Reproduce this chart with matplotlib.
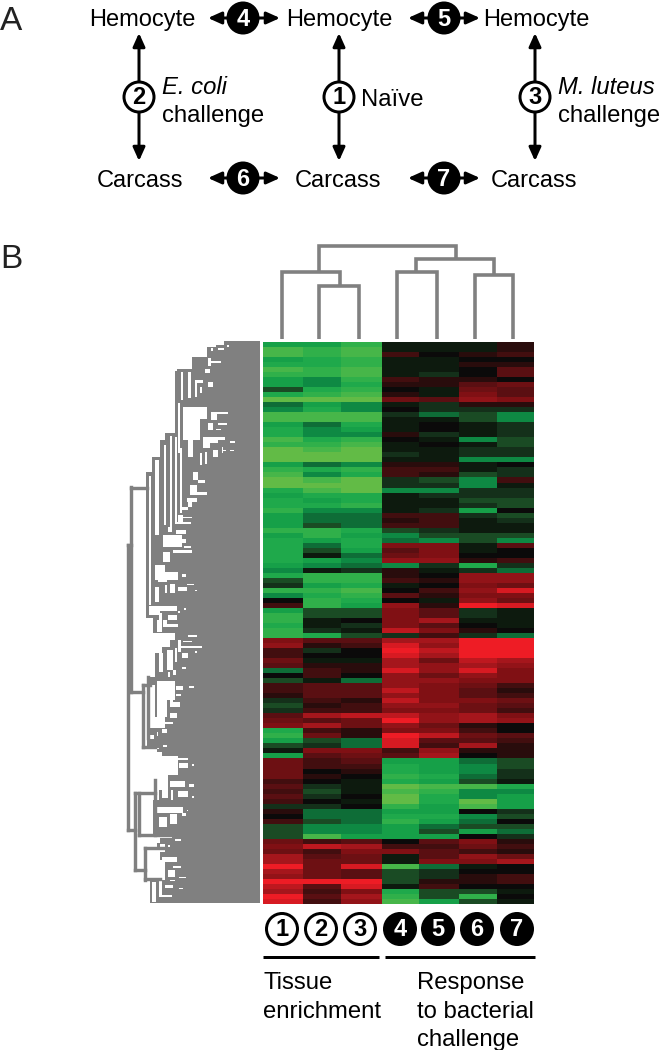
import numpy as np
import matplotlib
matplotlib.use('Agg')
import matplotlib.pyplot as plt
from matplotlib.colors import LinearSegmentedColormap
from matplotlib.patches import Circle, Rectangle

plt.rcParams['font.family'] = ['Liberation Sans', 'DejaVu Sans']

GRAY = '#808080'
PX = 72 / 100.0   # one pixel in points

# heat map values, -10 green .. 10 red, one tuple per row, columns 1..7
rows_green_top = [
    (-6,-6,-8,-1,-1,-1,1), (-9,-8,-9,-1,-1,-1,1), (-9,-8,-9,2,0,1,2), (-6,-7,-8,-1,-1,0,0),
    (-7,-7,-8,-1,-1,1,1), (-9,-8,-9,-1,-1,0,3), (-8,-8,-9,-1,-2,0,3), (-6,-5,-8,2,1,1,0),
    (-6,-5,-7,1,1,3,4), (-3,-7,-8,0,-1,4,3), (-7,-8,-9,1,-1,5,3), (-10,-10,-10,4,3,6,5),
    (-4,-6,-5,-1,-2,1,1), (-5,-7,-5,0,-2,-2,-2), (-9,-9,-9,-2,-4,-3,-5), (-9,-9,-9,-1,-1,-3,-5),
    (-6,-4,-7,-1,0,-1,-2), (-7,-5,-6,-1,0,-1,-2), (-7,-5,-5,1,-2,-1,-2), (-9,-7,-8,0,-1,-5,-3),
    (-8,-8,-9,-1,0,-1,-3), (-10,-9,-10,-1,-1,-2,-2), (-10,-10,-10,-2,-1,-2,-2), (-10,-10,-10,-1,-1,-5,-5),
    (-6,-4,-5,1,1,-1,0), (-8,-7,-8,2,2,-1,-2), (-9,-5,-7,2,1,-3,-2), (-10,-9,-10,-2,-3,-5,2),
]
rows_green_low = [
    (-10,-10,-10,-2,-2,-5,-1), (-7,-9,-10,-5,-5,-2,-2), (-6,-7,-7,-1,-2,-2,-2), (-7,-6,-7,-1,-1,-3,-3),
    (-7,-7,-8,-1,-1,-2,-3), (-8,-5,-5,-1,-2,-6,0), (-6,-4,-4,2,2,-2,-3), (-6,-4,-4,1,2,-1,-2),
    (-6,-3,-4,2,2,-1,-1), (-8,-8,-7,-3,-2,-1,-1), (-6,-8,-6,-5,-3,-3,-3), (-7,-6,-7,-4,-5,-3,-5),
    (-7,-4,-7,5,5,-1,3), (-7,-3,-6,3,5,-1,0), (-7,-1,-4,4,5,0,0), (-7,-6,-5,6,6,1,2),
    (-6,-5,-4,-5,-2,-7,-2), (-5,-1,-2,1,-1,-2,-4), (-7,-8,-8,1,0,6,6), (-3,-8,-8,2,1,6,6),
    (-2,-6,-7,-1,0,5,4), (-8,-8,-9,0,2,6,9), (-5,-7,-8,3,1,5,5), (0,-8,-7,0,-1,6,4),
    (2,-8,-6,6,1,10,9), (-6,-3,-3,5,3,-2,-1), (-8,-3,-3,5,3,-2,-1), (-8,-1,0,5,7,-1,-1),
    (-7,-1,-2,5,3,0,-1), (-8,-2,-1,8,5,1,0), (-8,-7,-3,-2,2,-2,-4),
]
rows_red_top = [
    (5,3,3,7,7,10,10), (6,1,2,9,6,10,10), (2,-2,0,10,8,10,10), (2,0,0,9,7,10,10),
    (4,-1,-1,7,4,8,7), (3,1,1,7,6,7,6), (-4,2,1,9,6,9,5), (0,2,0,6,4,6,5),
    (-3,-1,-4,6,6,5,5), (2,3,3,6,5,4,2), (2,3,3,8,5,3,1), (1,3,3,6,5,3,2),
    (-2,2,1,8,5,5,4), (-3,1,2,6,6,4,3), (-2,2,2,5,5,4,2), (3,7,8,8,6,7,5),
    (4,3,4,10,6,7,6), (5,7,4,6,4,1,0), (-7,2,1,5,5,2,0), (-8,4,1,10,8,4,3),
    (-6,-3,-4,9,3,3,2), (-3,-2,-4,9,2,7,1), (-1,5,5,2,6,1,1), (-6,3,4,3,7,0,1),
]
rows_response_green = [
    (4,2,3,-6,-6,-4,-3), (4,2,2,-7,-6,-5,-3), (4,0,1,-7,-6,-5,-2), (4,1,0,-8,-7,-4,-2),
    (2,0,-1,-7,-6,-3,-1), (3,-2,-1,-10,-9,-9,-7), (2,-3,-1,-9,-8,-5,-5), (3,-2,0,-10,-7,-5,-6),
    (2,0,-1,-10,-7,-10,-6), (-2,-2,0,-8,-6,-9,-6), (1,-4,-4,-6,-6,0,-2), (0,-4,-4,-7,-7,-5,-3),
    (2,-3,-4,-8,-6,-4,0), (-3,-5,-5,-6,-4,-3,-3), (-3,-5,-5,-6,-3,-6,-4), (-3,-9,-6,-6,-6,0,-2),
]
rows_red_bottom = [
    (4,2,3,0,3,5,1), (5,8,7,2,2,4,2), (4,2,5,5,3,2,1), (7,3,4,-1,3,6,4),
    (7,4,4,-1,5,5,7), (10,4,9,-9,-4,-1,0), (7,4,3,-3,-2,0,0), (6,4,3,-3,-2,1,2),
    (10,10,10,-3,1,1,2), (8,3,9,-1,2,0,0), (7,2,5,-7,-3,-3,-1), (10,3,7,-8,-3,-8,0),
    (9,2,6,-9,-6,-3,-1),
]

col_edges = [263, 303, 341, 382, 419, 459, 497, 534]

# top dendrogram, one bracket per merge: left x, right x, merge height, foot of each side
top_left = [282, 319, 397, 475, 416, 319]
top_right = [340, 359, 437, 513, 494, 456]
top_merge = [272, 286, 272, 275, 259, 246]
top_foot_left = [339, 339, 339, 339, 272, 272]
top_foot_right = [286, 339, 339, 339, 275, 259]

# side dendrogram: left edge of the gray block, row band by row band
mass_y = [341, 345, 347, 357, 369, 371, 433, 440, 457, 472, 487, 618, 633, 640, 647, 653, 677, 685, 728,
          733, 747, 752, 756, 775, 790, 800, 835, 838, 843, 848, 860, 880]
mass_x = [224, 216, 207, 192, 177, 175, 165, 160, 152, 146, 146, 153, 175, 170, 162, 155, 149, 155, 150,
          147, 157, 162, 178, 168, 154, 153, 172, 160, 157, 160, 165, 150]
mass_end = 903

# outer branches of the side dendrogram (x0, y0, x1, y1)
side_branches = [
    (128, 545, 128, 830), (128, 545, 131, 545), (131, 487, 131, 692), (131, 488, 147, 488),
    (131, 692, 143, 692), (143, 685, 143, 747), (143, 685, 150, 685), (143, 747, 155, 747),
    (148, 677, 148, 738), (128, 830, 135, 830), (135, 793, 135, 870), (135, 793, 155, 793),
    (135, 870, 145, 870), (145, 848, 145, 880), (145, 848, 165, 848), (139, 793, 139, 835),
    (139, 835, 172, 835), (155, 780, 155, 835), (145, 879, 160, 879),
]

# white gaps inside the gray block (x0, x1, y0, y1)
side_gaps = [
    (181,183,372,400), (188,191,372,398), (195,203,380,383), (195,197,380,397), (200,202,387,393),
    (208,213,382,387), (205,210,369,373), (208,221,361,363), (208,211,358,366), (211,213,348,351),
    (218,224,348,350), (227,229,345,347), (178,180,403,453), (183,207,407,419), (183,200,419,440),
    (211,228,412,414), (211,217,414,420), (218,227,423,425), (208,213,423,430), (216,221,429,430),
    (188,193,440,457), (203,225,437,440), (203,218,440,443), (203,210,443,448), (230,235,441,443),
    (230,234,450,451), (222,226,450,451), (213,218,450,457), (222,223,447,453), (200,202,453,465),
    (205,207,452,464), (193,198,472,480), (198,205,480,483), (190,197,485,493), (190,207,492,495),
    (187,197,498,502), (188,192,502,507), (155,159,460,535), (164,166,445,525), (170,172,436,527),
    (175,177,437,523), (180,182,448,513), (149,151,476,605), (182,188,507,510), (183,192,517,518),
    (178,183,515,522), (175,191,522,524), (168,172,527,532), (176,186,530,534), (163,182,535,547),
    (182,186,539,543), (184,191,546,548), (173,192,550,553), (163,170,552,562), (155,165,565,580),
    (165,178,572,580), (158,167,580,582), (182,186,574,577), (155,159,587,602), (165,167,585,593),
    (170,175,584,593), (178,187,587,591), (187,194,584,585), (195,197,590,591), (149,160,606,615),
    (160,177,606,611), (184,186,608,610), (178,180,611,613), (159,162,613,632), (168,177,615,620),
    (163,178,624,627), (157,159,620,632), (163,167,620,624), (188,197,635,637), (183,192,641,642),
    (178,202,646,648), (178,181,640,652), (175,177,648,662), (182,188,653,658), (195,197,651,653),
    (167,173,650,670), (159,163,653,672), (168,170,672,677), (173,176,670,675), (182,186,667,669),
    (157,175,681,700), (157,167,700,717), (154,165,717,728), (176,183,686,690), (189,194,686,688),
    (170,175,692,698), (176,181,694,696), (170,180,702,707), (170,173,697,707), (166,167,710,715),
    (170,177,713,718), (163,173,722,724), (162,167,729,733), (157,158,732,736), (149,154,735,739),
    (163,167,745,747), (154,159,748,749), (178,188,758,760), (179,188,763,768), (192,194,764,766),
    (170,185,781,787), (189,194,784,787), (157,159,780,800), (162,168,780,798), (171,173,790,800),
    (178,188,791,797), (192,194,796,798), (157,183,807,813), (159,167,817,827), (170,177,814,824),
    (182,186,813,816), (187,188,810,811), (175,181,839,841), (160,165,844,852), (168,170,845,847),
    (162,177,857,862), (173,181,866,868), (168,175,870,877), (179,186,877,878), (170,175,880,881),
    (165,173,885,888), (179,183,888,889), (159,172,895,897), (159,162,880,895), (152,156,882,902),
]

# panel A
tissue_x = [142, 339, 536]
hemocyte_y = 18
carcass_x = [140, 338, 534]
carcass_y = 179
vert_x = [139, 339, 535]
vert_num = ['2', '1', '3']
horiz_left = [208, 408]
horiz_right = [280, 480]
horiz_mid = [243, 444]
top_num = ['4', '5']
bottom_num = ['6', '7']

# numbered circles under the heat map
key_x = [282, 321, 360, 400, 438, 477, 517]
key_num = ['1', '2', '3', '4', '5', '6', '7']

cmap = LinearSegmentedColormap.from_list('gbr', [
    (0.00, '#62bb46'), (0.05, '#45b649'), (0.10, '#2fb04a'), (0.15, '#1fa94b'), (0.20, '#16a048'),
    (0.25, '#0e8a43'), (0.30, '#0e6c36'), (0.35, '#1a4a24'), (0.40, '#14301a'), (0.45, '#0d1a0e'),
    (0.50, '#0a0a0a'), (0.55, '#2a0c0c'), (0.65, '#5a0f12'), (0.75, '#7f1014'), (0.85, '#a5161c'),
    (1.00, '#ee1c25')])


def num_circle(ax, x, y, r, label, filled, size):
    face = 'black' if filled else 'white'
    ink = 'white' if filled else 'black'
    ax.add_patch(Circle((x, y), r, facecolor=face, edgecolor='black', lw=3 * PX, zorder=4))
    ax.text(x, y + 1, label, color=ink, fontsize=size, fontweight='bold',
            ha='center', va='center', zorder=5)


def arrow(ax, x0, y0, x1, y1):
    ax.annotate('', xy=(x1, y1), xytext=(x0, y0),
                arrowprops=dict(arrowstyle='<|-|>,head_length=0.8,head_width=0.36', color='black',
                                lw=3 * PX, mutation_scale=10, shrinkA=0, shrinkB=0), zorder=2)


def label(ax, x, y, s, **kw):
    ax.text(x, y, s, fontsize=17.2, ha='left', va='center', **kw)


fig = plt.figure(figsize=(6.6, 10.5), dpi=100)
ax = fig.add_axes([0, 0, 1, 1])
ax.set_xlim(0, 660)
ax.set_ylim(1050, 0)
ax.axis('off')

# panel letters
ax.text(0, 21, 'A', fontsize=24, ha='left', va='center', color='#222222')
ax.text(0, 260, 'B', fontsize=24, ha='left', va='center', color='#222222')

# panel A scheme
for x in tissue_x:
    ax.text(x, hemocyte_y + 2, 'Hemocyte', fontsize=17, ha='center', va='center')
for x in carcass_x:
    ax.text(x, carcass_y + 2, 'Carcass', fontsize=17, ha='center', va='center')
for x, n in zip(vert_x, vert_num):
    arrow(ax, x, 33, x, 161)
    num_circle(ax, x, 97, 15, n, False, 17)
for i in range(2):
    arrow(ax, horiz_left[i], hemocyte_y, horiz_right[i], hemocyte_y)
    num_circle(ax, horiz_mid[i], hemocyte_y, 15, top_num[i], True, 17)
    arrow(ax, horiz_left[i], carcass_y - 1, horiz_right[i], carcass_y - 1)
    num_circle(ax, horiz_mid[i], carcass_y - 1, 15, bottom_num[i], True, 17)
label(ax, 162, 88, 'E. coli', style='italic')
label(ax, 162, 116, 'challenge')
label(ax, 361, 100, 'Naïve')
label(ax, 558, 88, 'M. luteus', style='italic')
label(ax, 558, 116, 'challenge')

# heat map
values = np.array(rows_green_top + rows_green_low + rows_red_top + rows_response_green + rows_red_bottom, dtype=float)
row_edges = np.linspace(342, 904, values.shape[0] + 1)
ax.pcolormesh(col_edges, row_edges, values, cmap=cmap, vmin=-10, vmax=10, shading='flat',
              antialiased=False, rasterized=True, zorder=1)

# top dendrogram
for i in range(len(top_left)):
    ax.plot([top_left[i], top_left[i], top_right[i], top_right[i]],
            [top_foot_left[i], top_merge[i], top_merge[i], top_foot_right[i]],
            color=GRAY, lw=3.6 * PX, solid_joinstyle='miter', solid_capstyle='butt')

# side dendrogram
edges_y = mass_y + [mass_end]
for i in range(len(mass_x)):
    ax.add_patch(Rectangle((mass_x[i], edges_y[i]), 260 - mass_x[i], edges_y[i + 1] - edges_y[i],
                           facecolor=GRAY, edgecolor='none', zorder=1))
for x0, x1, y0, y1 in side_gaps:
    ax.add_patch(Rectangle((x0, y0), x1 - x0, y1 - y0, facecolor='white', edgecolor='none', zorder=2))
for x0, y0, x1, y1 in side_branches:
    ax.plot([x0, x1], [y0, y1], color=GRAY, lw=3.4 * PX, solid_capstyle='projecting', zorder=3)

# key under the heat map
for i in range(len(key_x)):
    num_circle(ax, key_x[i], 929, 15.5, key_num[i], i >= 3, 17)
ax.plot([263, 379], [957, 957], color='black', lw=3 * PX, solid_capstyle='butt')
ax.plot([385, 535], [957, 957], color='black', lw=3 * PX, solid_capstyle='butt')
label(ax, 263, 983, 'Tissue')
label(ax, 263, 1012, 'enrichment')
label(ax, 417, 983, 'Response')
label(ax, 417, 1012, 'to bacterial')
label(ax, 417, 1040, 'challenge')

fig.savefig('out.png', dpi=100)
